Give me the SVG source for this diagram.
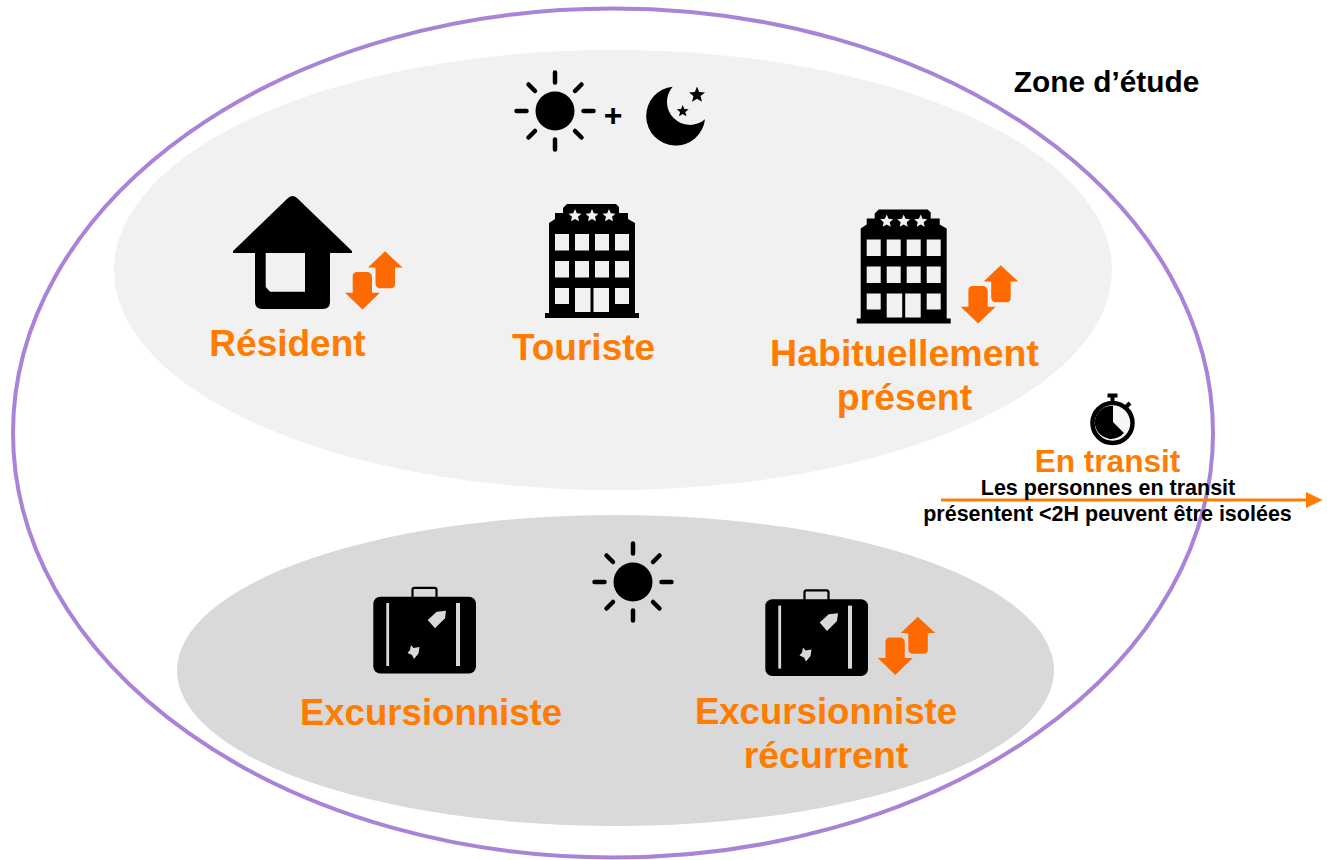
<svg xmlns="http://www.w3.org/2000/svg" width="1327" height="860" viewBox="0 0 1327 860">
<style>
text{font-family:"Liberation Sans",Arial,sans-serif;font-weight:700;text-anchor:middle}
.lbl{fill:#ff7c00;font-size:37px}
.note{fill:#000;font-size:21.500px}
.ray{stroke:#000;stroke-width:4.500;stroke-linecap:round;fill:none}
.soft{filter:url(#soft)}
</style>
<defs>
<filter id="soft" x="-10%" y="-10%" width="120%" height="120%"><feGaussianBlur stdDeviation="0.450"/></filter>
<g id="sun">
<circle r="19.500" fill="#000"/>
<path class="ray" d="M0-38.500V-28.500M0 28.500V38.500M-38.500 0H-28.500M28.500 0H38.500M-26.500-26.500L-20-20M26.500-26.500L20-20M-26.500 26.500L-20 20M26.500 26.500L20 20"/>
</g>
<g id="updown">
<path fill="#ff6a00" d="M385 251.300L402.500 267.500H395V284a4 4 0 0 1-4 4.300H380a4.500 4.500 0 0 1-4.500-4.500V267.500H368Z"/>
<path fill="#ff6a00" d="M357 272H367a5 5 0 0 1 5 5V292.700H380L362.500 309.500L345 292.700H352.700V276a4 4 0 0 1 4.300-4Z"/>
</g>
<g id="hotel">
<path fill="#000" d="M565 206L567 204H616L619 207V213H628V219L635 223V313H639V318H545V313H549V223L555 219V213H563V208Z"/>
<g fill="#f1f1f1">
<rect x="555" y="234" width="14" height="16.500"/><rect x="575" y="234" width="14" height="16.500"/><rect x="595" y="234" width="14" height="16.500"/><rect x="615" y="234" width="14" height="16.500"/>
<rect x="555" y="261" width="14" height="16.500"/><rect x="575" y="261" width="14" height="16.500"/><rect x="595" y="261" width="14" height="16.500"/><rect x="615" y="261" width="14" height="16.500"/>
<rect x="555" y="288" width="14" height="16"/><rect x="575" y="288" width="15.500" height="24"/><rect x="593.500" y="288" width="15.500" height="24"/><rect x="615" y="288" width="14" height="16"/>
<path d="M575 209L576.800 213.300L581.500 213.700L578 216.800L579 221.300L575 219L571 221.300L572 216.800L568.500 213.700L573.200 213.300Z"/>
<path d="M592 209L593.800 213.300L598.500 213.700L595 216.800L596 221.300L592 219L588 221.300L589 216.800L585.500 213.700L590.200 213.300Z"/>
<path d="M609 209L610.800 213.300L615.500 213.700L612 216.800L613 221.300L609 219L605 221.300L606 216.800L602.500 213.700L607.200 213.300Z"/>
</g>
</g>
<g id="case">
<path fill="none" stroke="#000" stroke-width="2.200" d="M412.500 598V590Q412.500 587.800 414.500 587.800H434.500Q436.500 587.800 436.500 590V598"/>
<rect x="373.300" y="596.700" width="102.700" height="76.800" rx="7" fill="#000"/>
<g fill="#d9d9d9">
<rect x="386.300" y="603" width="2.800" height="63"/>
<rect x="456" y="603" width="4" height="63"/>
<path d="M427.700 620L436.700 611.700L446 610.700L445 618.300L435 628.300Z"/>
<path d="M411 645L413.500 648L419.500 647L418.500 653.500L414 659L412 655L407.500 653L410 650Z"/>
</g>
</g>
</defs>

<g id="zone-etude">
<ellipse cx="613" cy="433" rx="600" ry="424.500" fill="#fff" stroke="#a983d8" stroke-width="4"/>
</g>
<g id="zone-nuit">
<ellipse cx="613" cy="270" rx="499" ry="220" fill="#f1f1f1"/>
</g>
<g id="zone-jour">
<ellipse cx="615.500" cy="670.500" rx="438.500" ry="155.500" fill="#d9d9d9"/>
</g>
<text x="1106.500" y="92" font-size="29.800" fill="#000" id="zone-label">Zone d’étude</text>

<g id="sun-moon">
<use href="#sun" x="555" y="111" class="soft"/>
<text x="613" y="125.500" font-size="32" fill="#000">+</text>
<g class="soft">
<path fill="#000" d="M672.700 86.700A29.500 29.500 0 1 0 705 119.300A23 23 0 0 1 672.700 86.700Z"/>
<path fill="#000" d="M697 86.500L699.200 92L705 92.400L700.500 96.100L702 101.800L697 98.700L692 101.800L693.500 96.100L689 92.400L694.800 92Z"/>
<path fill="#000" d="M682.700 105L684.300 109L688.700 109.300L685.300 112L686.400 116.300L682.700 114L679 116.300L680.100 112L676.700 109.300L681.100 109Z"/>
</g>
</g>

<g id="resident">
<path class="soft" fill="#000" fill-rule="evenodd" d="M288 198Q292.700 194 297 198L352 251V253H330V302Q330 309 323 309H262Q255 309 255 302V253H233V251ZM265.700 253V287L270 291.700H305V253Z"/>
<use href="#updown" class="soft"/>
<text class="lbl" x="287.500" y="356">Résident</text>
</g>
<g id="touriste">
<use href="#hotel" class="soft"/>
<text class="lbl" x="583.500" y="360">Touriste</text>
</g>
<g id="habituellement-present">
<use href="#hotel" x="311.700" y="5.500" class="soft"/>
<use href="#updown" x="615.700" y="14" class="soft"/>
<text class="lbl" x="904.500" y="366" style="font-size:37.500px">Habituellement</text>
<text class="lbl" x="904.500" y="410" style="font-size:37.500px">présent</text>
</g>
<g id="soleil-jour">
<use href="#sun" x="633" y="582" class="soft"/>
</g>
<g id="excursionniste">
<use href="#case" class="soft"/>
<text class="lbl" x="431" y="725" style="font-size:36.600px">Excursionniste</text>
</g>
<g id="excursionniste-recurrent">
<use href="#case" x="392" y="2.600" class="soft"/>
<use href="#updown" x="532.800" y="365.400" class="soft"/>
<text class="lbl" x="826" y="724" style="font-size:36.600px">Excursionniste</text>
<text class="lbl" x="826" y="768" style="font-size:37.500px">récurrent</text>
</g>
<g id="connectors">
<path d="M941 500H1307" stroke="#ff7c00" stroke-width="3" fill="none"/>
<path d="M1306 492L1322.500 500L1306 508Z" fill="#ff7c00"/>
</g>
<g id="en-transit">
<g class="soft">
<circle cx="1112.500" cy="423" r="20" fill="#f6f6f6" stroke="#000" stroke-width="4.500"/>
<path fill="#000" d="M1113 406V422L1124 433A16.500 16.500 0 1 1 1113 406Z"/>
<path d="M1112.500 403V396M1107.500 395.500H1117.500M1126 407L1130 403" stroke="#000" stroke-width="4" fill="none"/>
</g>
<text class="lbl" x="1107.500" y="472" style="font-size:31.600px">En transit</text>
<text class="note" x="1108" y="495">Les personnes en transit</text>
<text class="note" x="1107.500" y="521">présentent &lt;2H peuvent être isolées</text>
</g>
</svg>
